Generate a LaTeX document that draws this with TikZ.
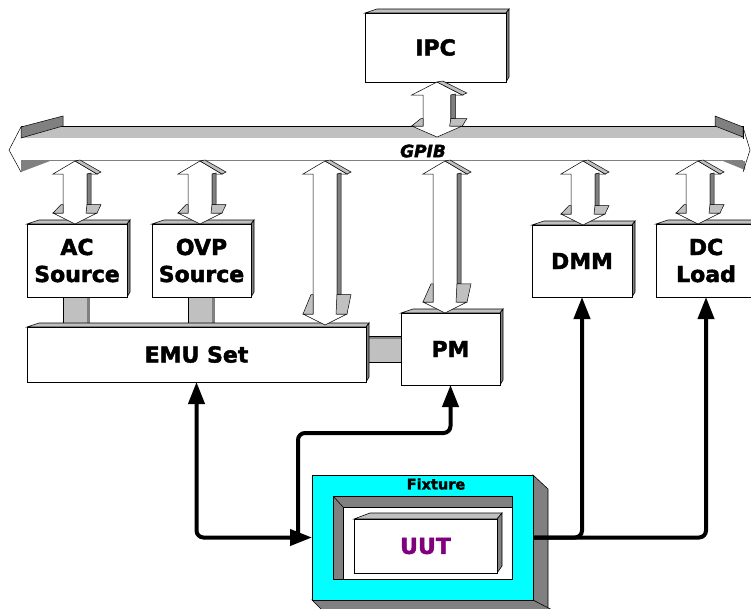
\documentclass[tikz,border=0pt]{standalone}
\usepackage{fontspec}
\newfontfamily\djv{DejaVu Sans}[BoldFeatures={FakeBold=2},BoldItalicFeatures={FakeBold=2}]
\usetikzlibrary{arrows.meta,calc}
\definecolor{lgray}{RGB}{192,192,192}
\definecolor{dgray}{RGB}{128,128,128}
\definecolor{uutpurple}{RGB}{128,0,128}
\definecolor{fixcyan}{RGB}{0,255,255}
\newcommand{\lblfont}{\djv\bfseries\fontsize{22}{27}\selectfont}
\newcommand{\tdbox}[6]{%
  \filldraw[fill=lgray,draw=black,line width=0.6pt] (#2,#3) -- (#2+12,#3-4) -- (#4+3,#3-4) -- (#4,#3) -- cycle;
  \filldraw[fill=dgray,draw=black,line width=0.6pt] (#4,#3) -- (#4+3,#3-4) -- (#4+3,#5-5) -- (#4,#5) -- cycle;
  \pgfmathsetmacro\bw{#4-#2}\pgfmathsetmacro\bh{#5-#3}%
  \node[box,minimum width=\bw pt,minimum height=\bh pt] (#1) at ({(#2+#4)/2},{(#3+#5)/2}) {#6};
}
\newcommand{\vdarrow}[4]{%
  \pgfmathsetmacro\L{#3-#2}%
  \pgfmathsetmacro\hh{8+(\L-60)*0.11}%
  \begin{scope}[shift={(#1,#2)},xscale=#4,line width=0.5pt]
    \filldraw[fill=white] (0,0) -- (-22,13) -- (-12,13) -- (-12,\L-11) -- (-22,\L-11) -- (0,\L) -- (22,\L-11) -- (12,\L-11) -- (12,13) -- (22,13) -- cycle;
    \filldraw[fill=lgray] (0,0) -- (5,-1) -- (26,11) -- (22,13) -- cycle;
    \filldraw[fill=dgray] (12,13) -- (16,12) -- (16,\L-11-\hh) -- (12,\L-11-\hh) -- cycle;
    \filldraw[fill=lgray] (-14,\L-11-\hh) -- (-12,\L-11-\hh) -- (-12,\L-11) -- (-22,\L-11) -- cycle;
    \filldraw[fill=lgray] (12,\L-11-\hh) -- (26,\L-11-\hh) -- (22,\L-11) -- (11,\L-11) -- cycle;
  \end{scope}}
\tikzset{
  box/.style={draw,fill=white,line width=0.6pt,inner sep=0pt,outer sep=0pt,align=center,font=\lblfont},
  conn/.style={line width=4pt,rounded corners=7pt},
  bigtip/.tip={Triangle[length=22pt,width=16pt]},
  link/.style={fill=lgray,draw=black,line width=0.6pt}
}
\begin{document}
\begin{tikzpicture}[x=1pt,y=-1pt]
\useasboundingbox[fill=white] (0,0) rectangle (751,608);
% gray links between boxes
\filldraw[link] (63,295) rectangle (87,329);
\fill[dgray] (87,295) rectangle (90,325);
\filldraw[link] (188,295) rectangle (212,329);
\fill[dgray] (212,295) rectangle (215,325);
\filldraw[link] (364,336) rectangle (403,362);
\fill[dgray] (366,337) rectangle (401,339);
% boxes
\tdbox{ipc}{365}{13}{506}{82}{IPC}
\tdbox{ac}{27}{224}{127}{297}{AC\\Source}
\tdbox{ovp}{152}{224}{251}{297}{OVP\\Source}
\tdbox{emu}{27}{327}{366}{382}{EMU Set}
\tdbox{pm}{401}{313}{500}{385}{PM}
\tdbox{dmm}{532}{225}{632}{297}{DMM}
\tdbox{dcl}{656}{224}{756}{297}{DC\\Load}
% GPIB bus
\filldraw[fill=lgray,draw=black,line width=0.7pt] (21,126) rectangle (743,138);
\fill[white] (21,138.4) rectangle (743,160);
\draw[dgray,line width=1.3pt] (21,160.5) -- (743,160.5);
\filldraw[fill=dgray,draw=black,line width=0.5pt] (21,127) -- (63,116) -- (63,126) -- (21,138) -- cycle;
\filldraw[fill=dgray,draw=black,line width=0.5pt] (715,116) -- (743,127) -- (743,137) -- (715,126) -- cycle;
\fill[dgray] (21,161) -- (21,172) -- (50,161) -- cycle;
\fill[dgray] (723,161) -- (745,170) -- (745,161) -- cycle;
\draw[line width=0.5pt] (21,127) -- (9,150) -- (21,172);
\draw[line width=0.5pt] (743,127) -- (750,150) -- (743,172);
\node[font=\djv\bfseries\itshape\fontsize{17}{20}\selectfont] (gpib) at (423,151) {GPIB};
% block arrows
\vdarrow{437}{82}{137}{1.15}
\vdarrow{75}{161}{224}{1}
\vdarrow{200}{161}{224}{1}
\vdarrow{325}{161}{325}{1}
\vdarrow{445}{161}{313}{1}
\vdarrow{583}{161}{225}{1}
\vdarrow{698}{161}{224}{1}
% fixture
\filldraw[fill=dgray,line width=0.6pt] (533,475) -- (548,489) -- (548,620) -- (533,600) -- cycle;
\filldraw[fill=dgray,line width=0.6pt] (312,600) -- (326,614) -- (560,614) -- (533,600) -- cycle;
\node[draw,fill=fixcyan,line width=0.6pt,minimum width=221pt,minimum height=125pt,inner sep=0pt,outer sep=0pt] (fix) at (422.5,537.5) {};
\node[font=\djv\bfseries\fontsize{14.5}{17}\selectfont] (fixlbl) at (436,484) {Fixture};
\filldraw[fill=dgray,line width=0.6pt] (333,496) rectangle (512,579);
\filldraw[fill=white,line width=0.6pt] (343,507) -- (512,507) -- (512,579) -- (343,579) -- cycle;
\draw[line width=0.6pt] (333,496) -- (343,507);
\filldraw[fill=lgray,line width=0.6pt] (354,519) -- (370,513) -- (502,513) -- (497,519) -- cycle;
\filldraw[fill=dgray,line width=0.6pt] (497,519) -- (502,513) -- (502,566) -- (497,573) -- cycle;
\node[box,minimum width=143pt,minimum height=54pt,text=uutpurple,font=\djv\bfseries\fontsize{22}{26}\selectfont] (uut) at (425.5,546) {UUT};
% thick connectors
\coordinate (j2) at (298,537.5);
\coordinate (pmb) at (450.5,433);
\draw[conn,bigtip-bigtip] (emu.south) |- (fix.west);
\draw[conn,-bigtip] (j2) |- (pmb) -- (pm.south);
\draw[conn,-bigtip] (fix.east) -| (dmm.south);
\draw[conn,-bigtip] (fix.east) -| (dcl.south);
\end{tikzpicture}
\end{document}
